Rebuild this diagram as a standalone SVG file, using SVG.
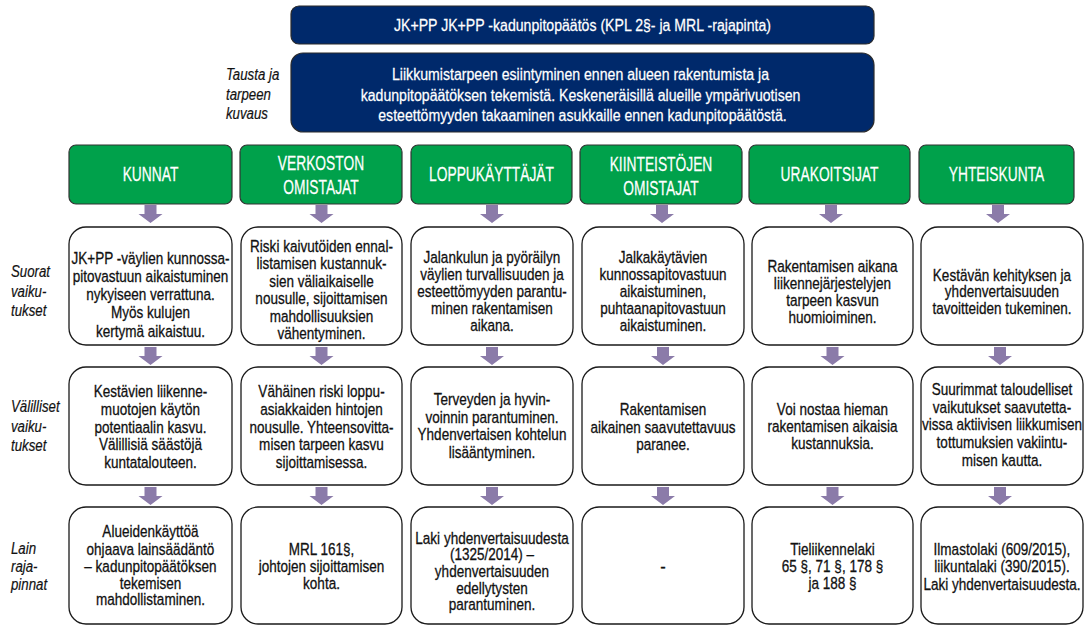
<svg xmlns="http://www.w3.org/2000/svg" xmlns:xlink="http://www.w3.org/1999/xlink" width="1086" height="626" viewBox="0 0 1086 626">
  <style>
    .t { font-family: "Liberation Sans", Arial, sans-serif; }
    .banner { fill: #00296b; stroke: #2b2b2b; stroke-width: 1.2; }
    .btxt { fill: #ffffff; stroke: #ffffff; stroke-width: 0.25; font-size: 16.5px; text-anchor: middle; }
    .head { fill: #00a14b; stroke: #333333; stroke-width: 1.2; }
    .htxt { fill: #ffffff; stroke: #ffffff; stroke-width: 0.25; font-size: 20px; text-anchor: middle; }
    .box { fill: #ffffff; stroke: #1a1a1a; stroke-width: 1.3; }
    .body { fill: #111111; stroke: #111111; stroke-width: 0.3; font-size: 16.5px; text-anchor: middle; }
    .side { fill: #111111; stroke: #111111; stroke-width: 0.2; font-size: 17px; font-style: italic; }
    .arr { fill: #8b7ba9; }
  </style>
  <defs>
    <path id="arrow" d="M-6,0 H6 V9 H12 L0,18 L-12,9 H-6 Z"/>
  </defs>

  <!-- row titles (condensed by a horizontal scale about their left edge) -->
  <g id="row-labels" class="t side">
    <text transform="matrix(0.78 0 0 1 49.72 0)"><tspan x="226" y="80">Tausta ja</tspan><tspan x="226" y="100">tarpeen</tspan><tspan x="226" y="119.5">kuvaus</tspan></text>
    <text transform="matrix(0.78 0 0 1 2.42 0)"><tspan x="11" y="277.5">Suorat</tspan><tspan x="11" y="297">vaiku-</tspan><tspan x="11" y="316.5">tukset</tspan></text>
    <text transform="matrix(0.78 0 0 1 2.42 0)"><tspan x="11" y="412.5">Välilliset</tspan><tspan x="11" y="432">vaiku-</tspan><tspan x="11" y="451.5">tukset</tspan></text>
    <text transform="matrix(0.78 0 0 1 2.42 0)"><tspan x="11" y="554">Lain</tspan><tspan x="11" y="572">raja-</tspan><tspan x="11" y="590.5">pinnat</tspan></text>
  </g>

  <!-- top banners -->
  <g id="decision">
    <rect class="banner" x="291" y="6" width="583" height="38" rx="8"/>
    <text class="t btxt" transform="matrix(0.855 0 0 1 84.46 0)" x="582.5" y="31.5">JK+PP JK+PP -kadunpitopäätös (KPL 2§- ja MRL -rajapinta)</text>
  </g>
  <g id="background">
    <rect class="banner" x="291" y="53" width="583" height="79" rx="12"/>
    <text class="t btxt" font-size="17.5" transform="matrix(0.855 0 0 1 84.46 0)">
      <tspan x="582.5" y="80">Liikkumistarpeen esiintyminen ennen alueen rakentumista ja</tspan>
      <tspan x="582.5" y="101">kadunpitopäätöksen tekemistä. Keskeneräisillä alueille ympärivuotisen</tspan>
      <tspan x="582.5" y="121">esteettömyyden takaaminen asukkaille ennen kadunpitopäätöstä.</tspan>
    </text>
  </g>

  <!-- stakeholder headers -->
  <g id="h-kunnat">
    <rect class="head" x="69" y="145" width="163" height="59" rx="7"/>
    <text class="t htxt" transform="matrix(0.69 0 0 1 46.66 0)" x="150.5" y="181.5">KUNNAT</text>
  </g>
  <g id="h-verkosto">
    <rect class="head" x="240" y="145" width="162" height="59" rx="7"/>
    <text class="t htxt" transform="matrix(0.69 0 0 1 99.51 0)"><tspan x="321" y="170.5">VERKOSTON</tspan><tspan x="321" y="194">OMISTAJAT</tspan></text>
  </g>
  <g id="h-loppukayttajat">
    <rect class="head" x="411" y="145" width="161" height="59" rx="7"/>
    <text class="t htxt" transform="matrix(0.69 0 0 1 152.37 0)" x="491.5" y="181.5">LOPPUKÄYTTÄJÄT</text>
  </g>
  <g id="h-kiinteistot">
    <rect class="head" x="580" y="145" width="162" height="59" rx="7"/>
    <text class="t htxt" transform="matrix(0.69 0 0 1 204.91 0)"><tspan x="661" y="171.5">KIINTEISTÖJEN</tspan><tspan x="661" y="195">OMISTAJAT</tspan></text>
  </g>
  <g id="h-urakoitsijat">
    <rect class="head" x="749" y="145" width="161" height="59" rx="7"/>
    <text class="t htxt" transform="matrix(0.69 0 0 1 257.15 0)" x="829.5" y="181.5">URAKOITSIJAT</text>
  </g>
  <g id="h-yhteiskunta">
    <rect class="head" x="919" y="145" width="155" height="59" rx="7"/>
    <text class="t htxt" transform="matrix(0.69 0 0 1 308.92 0)" x="996.5" y="181.5">YHTEISKUNTA</text>
  </g>

  <!-- row 1: direct effects -->
  <g id="d-kunnat">
    <rect class="box" x="69" y="227" width="163" height="118" rx="17"/>
    <text class="t body" transform="matrix(0.82 0 0 1 27.09 0)"><tspan x="150.5" y="264">JK+PP -väylien kunnossa-</tspan><tspan x="150.5" y="282">pitovastuun aikaistuminen</tspan><tspan x="150.5" y="300">nykyiseen verrattuna.</tspan><tspan x="150.5" y="318">Myös kulujen</tspan><tspan x="150.5" y="337">kertymä aikaistuu.</tspan></text>
  </g>
  <g id="d-verkosto">
    <rect class="box" x="241" y="227" width="161" height="118" rx="17"/>
    <text class="t body" transform="matrix(0.82 0 0 1 57.87 0)"><tspan x="321.5" y="252">Riski kaivutöiden ennal-</tspan><tspan x="321.5" y="269.5">listamisen kustannuk-</tspan><tspan x="321.5" y="287">sien väliaikaiselle</tspan><tspan x="321.5" y="304.5">nousulle, sijoittamisen</tspan><tspan x="321.5" y="322">mahdollisuuksien</tspan><tspan x="321.5" y="339">vähentyminen.</tspan></text>
  </g>
  <g id="d-loppukayttajat">
    <rect class="box" x="411" y="227" width="162" height="118" rx="17"/>
    <text class="t body" transform="matrix(0.82 0 0 1 88.56 0)"><tspan x="492" y="263">Jalankulun ja pyöräilyn</tspan><tspan x="492" y="280">väylien turvallisuuden ja</tspan><tspan x="492" y="297">esteettömyyden parantu-</tspan><tspan x="492" y="314">minen rakentamisen</tspan><tspan x="492" y="331">aikana.</tspan></text>
  </g>
  <g id="d-kiinteistot">
    <rect class="box" x="582" y="227" width="162" height="118" rx="17"/>
    <text class="t body" transform="matrix(0.82 0 0 1 119.34 0)"><tspan x="663" y="263">Jalkakäytävien</tspan><tspan x="663" y="280">kunnossapitovastuun</tspan><tspan x="663" y="297">aikaistuminen,</tspan><tspan x="663" y="314">puhtaanapitovastuun</tspan><tspan x="663" y="331">aikaistuminen.</tspan></text>
  </g>
  <g id="d-urakoitsijat">
    <rect class="box" x="752" y="227" width="161" height="118" rx="17"/>
    <text class="t body" transform="matrix(0.82 0 0 1 149.85 0)"><tspan x="832.5" y="272">Rakentamisen aikana</tspan><tspan x="832.5" y="289">liikennejärjestelyjen</tspan><tspan x="832.5" y="306">tarpeen kasvun</tspan><tspan x="832.5" y="323">huomioiminen.</tspan></text>
  </g>
  <g id="d-yhteiskunta">
    <rect class="box" x="921" y="227" width="162" height="118" rx="17"/>
    <text class="t body" transform="matrix(0.82 0 0 1 180.36 0)"><tspan x="1002" y="281">Kestävän kehityksen ja</tspan><tspan x="1002" y="297.5">yhdenvertaisuuden</tspan><tspan x="1002" y="314">tavoitteiden tukeminen.</tspan></text>
  </g>

  <!-- row 2: indirect effects -->
  <g id="i-kunnat">
    <rect class="box" x="69" y="367" width="163" height="118" rx="17"/>
    <text class="t body" transform="matrix(0.82 0 0 1 27.09 0)"><tspan x="150.5" y="397">Kestävien liikenne-</tspan><tspan x="150.5" y="415">muotojen käytön</tspan><tspan x="150.5" y="433">potentiaalin kasvu.</tspan><tspan x="150.5" y="450">Välillisiä säästöjä</tspan><tspan x="150.5" y="468">kuntatalouteen.</tspan></text>
  </g>
  <g id="i-verkosto">
    <rect class="box" x="241" y="367" width="161" height="118" rx="17"/>
    <text class="t body" transform="matrix(0.82 0 0 1 57.87 0)"><tspan x="321.5" y="397">Vähäinen riski loppu-</tspan><tspan x="321.5" y="415">asiakkaiden hintojen</tspan><tspan x="321.5" y="433">nousulle. Yhteensovitta-</tspan><tspan x="321.5" y="450">misen tarpeen kasvu</tspan><tspan x="321.5" y="468">sijoittamisessa.</tspan></text>
  </g>
  <g id="i-loppukayttajat">
    <rect class="box" x="411" y="367" width="162" height="118" rx="17"/>
    <text class="t body" transform="matrix(0.82 0 0 1 88.56 0)"><tspan x="492" y="405">Terveyden ja hyvin-</tspan><tspan x="492" y="423">voinnin parantuminen.</tspan><tspan x="492" y="440.5">Yhdenvertaisen kohtelun</tspan><tspan x="492" y="458">lisääntyminen.</tspan></text>
  </g>
  <g id="i-kiinteistot">
    <rect class="box" x="582" y="367" width="162" height="118" rx="17"/>
    <text class="t body" transform="matrix(0.82 0 0 1 119.34 0)"><tspan x="663" y="415.5">Rakentamisen</tspan><tspan x="663" y="433">aikainen saavutettavuus</tspan><tspan x="663" y="450.5">paranee.</tspan></text>
  </g>
  <g id="i-urakoitsijat">
    <rect class="box" x="752" y="367" width="161" height="118" rx="17"/>
    <text class="t body" transform="matrix(0.82 0 0 1 149.85 0)"><tspan x="832.5" y="415.5">Voi nostaa hieman</tspan><tspan x="832.5" y="432">rakentamisen aikaisia</tspan><tspan x="832.5" y="449">kustannuksia.</tspan></text>
  </g>
  <g id="i-yhteiskunta">
    <rect class="box" x="921" y="367" width="162" height="118" rx="17"/>
    <text class="t body" transform="matrix(0.82 0 0 1 180.36 0)"><tspan x="1002" y="395.5">Suurimmat taloudelliset</tspan><tspan x="1002" y="413">vaikutukset saavutetta-</tspan><tspan x="1002" y="430.5">vissa aktiivisen liikkumisen</tspan><tspan x="1002" y="448.5">tottumuksien vakiintu-</tspan><tspan x="1002" y="466">misen kautta.</tspan></text>
  </g>

  <!-- row 3: legal interfaces -->
  <g id="l-kunnat">
    <rect class="box" x="69" y="507" width="163" height="117" rx="17"/>
    <text class="t body" transform="matrix(0.82 0 0 1 27.09 0)"><tspan x="150.5" y="537">Alueidenkäyttöä</tspan><tspan x="150.5" y="555">ohjaava lainsäädäntö</tspan><tspan x="150.5" y="572">– kadunpitopäätöksen</tspan><tspan x="150.5" y="589">tekemisen</tspan><tspan x="150.5" y="605.5">mahdollistaminen.</tspan></text>
  </g>
  <g id="l-verkosto">
    <rect class="box" x="241" y="507" width="161" height="117" rx="17"/>
    <text class="t body" transform="matrix(0.82 0 0 1 57.87 0)"><tspan x="321.5" y="555.5">MRL 161§,</tspan><tspan x="321.5" y="572">johtojen sijoittamisen</tspan><tspan x="321.5" y="589">kohta.</tspan></text>
  </g>
  <g id="l-loppukayttajat">
    <rect class="box" x="411" y="507" width="162" height="117" rx="17"/>
    <text class="t body" transform="matrix(0.82 0 0 1 88.56 0)"><tspan x="492" y="544">Laki yhdenvertaisuudesta</tspan><tspan x="492" y="560.5">(1325/2014) –</tspan><tspan x="492" y="577">yhdenvertaisuuden</tspan><tspan x="492" y="594">edellytysten</tspan><tspan x="492" y="610.5">parantuminen.</tspan></text>
  </g>
  <g id="l-kiinteistot">
    <rect class="box" x="582" y="507" width="162" height="117" rx="17"/>
    <text class="t body" x="663" y="572">-</text>
  </g>
  <g id="l-urakoitsijat">
    <rect class="box" x="752" y="507" width="161" height="117" rx="17"/>
    <text class="t body" transform="matrix(0.82 0 0 1 149.85 0)"><tspan x="832.5" y="555.5">Tieliikennelaki</tspan><tspan x="832.5" y="572">65 §, 71 §, 178 §</tspan><tspan x="832.5" y="589">ja 188 §</tspan></text>
  </g>
  <g id="l-yhteiskunta">
    <rect class="box" x="921" y="507" width="162" height="117" rx="17"/>
    <text class="t body" transform="matrix(0.82 0 0 1 180.36 0)"><tspan x="1002" y="555.5">Ilmastolaki (609/2015),</tspan><tspan x="1002" y="572">liikuntalaki (390/2015).</tspan><tspan x="1002" y="590">Laki yhdenvertaisuudesta.</tspan></text>
  </g>

  <!-- downward block arrows between the rows -->
  <g id="connectors" class="arr">
    <use xlink:href="#arrow" x="150.5" y="205"/>
    <use xlink:href="#arrow" x="321.5" y="205"/>
    <use xlink:href="#arrow" x="492" y="205"/>
    <use xlink:href="#arrow" x="662" y="205"/>
    <use xlink:href="#arrow" x="831" y="205"/>
    <use xlink:href="#arrow" x="998" y="205"/>
    <use xlink:href="#arrow" x="150.5" y="347"/>
    <use xlink:href="#arrow" x="321.5" y="347"/>
    <use xlink:href="#arrow" x="492" y="347"/>
    <use xlink:href="#arrow" x="663" y="347"/>
    <use xlink:href="#arrow" x="832.5" y="347"/>
    <use xlink:href="#arrow" x="1000" y="347"/>
    <use xlink:href="#arrow" x="150.5" y="487"/>
    <use xlink:href="#arrow" x="321.5" y="487"/>
    <use xlink:href="#arrow" x="492" y="487"/>
    <use xlink:href="#arrow" x="663" y="487"/>
    <use xlink:href="#arrow" x="832.5" y="487"/>
    <use xlink:href="#arrow" x="1000" y="487"/>
  </g>
</svg>
